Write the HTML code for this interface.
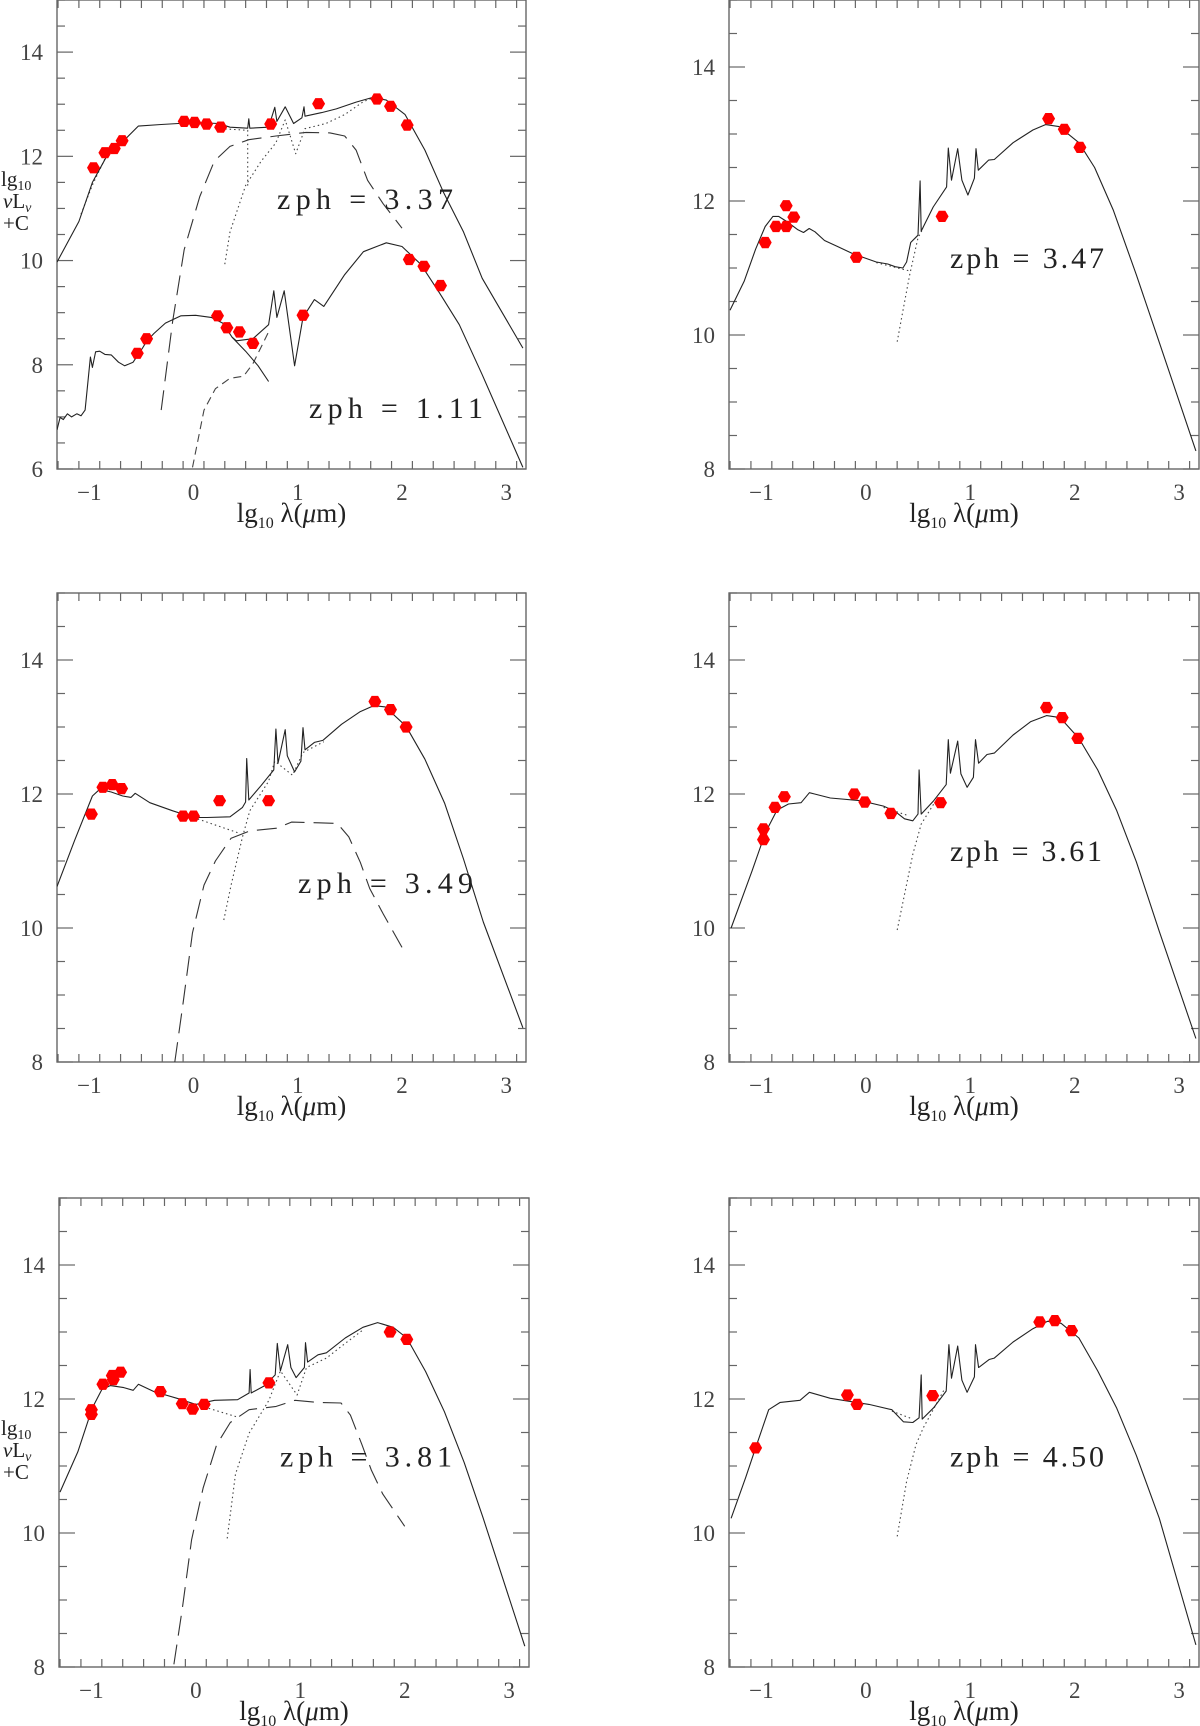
<!DOCTYPE html>
<html><head><meta charset="utf-8"><title>SED fits</title>
<style>html,body{margin:0;padding:0;background:#fff;}svg{display:block;}</style></head>
<body>
<svg id="fig" width="1200" height="1726" viewBox="0 0 1200 1726" xmlns="http://www.w3.org/2000/svg"></svg>
<script>
// ---------------- data (x = lg10 lambda, y = lg10 nuLnu + C) ----------------
const xTicks = [-1, 0, 1, 2, 3];
const yTicksA = [6, 8, 10, 12, 14];
const yTicksB = [8, 10, 12, 14];

// Panel 1 upper (zph 3.37)
const p1uPts = [[-0.96,11.78],[-0.85,12.07],[-0.76,12.15],[-0.685,12.30],[-0.09,12.67],[0.01,12.65],[0.125,12.62],[0.26,12.56],[0.74,12.62],[1.20,13.01],[1.76,13.10],[1.89,12.96],[2.05,12.60]];
const p1uSolid = [[-1.31,9.97],[-1.10,10.75],[-0.97,11.50],[-0.82,12.05],[-0.64,12.36],[-0.53,12.58],[-0.31,12.61],[0.02,12.65],[0.24,12.63],[0.35,12.56],[0.52,12.54],[0.53,12.72],[0.54,12.54],[0.72,12.56],[0.78,12.94],[0.80,12.67],[0.88,12.95],[0.96,12.63],[1.04,12.74],[1.06,12.95],[1.07,12.77],[1.23,12.84],[1.37,12.91],[1.56,13.04],[1.72,13.13],[1.85,13.08],[2.03,12.80],[2.22,12.12],[2.40,11.30],[2.59,10.55],[2.77,9.66],[3.16,8.32]];
const p1uDash = [[-0.31,7.13],[-0.20,8.84],[-0.09,10.21],[0.06,11.23],[0.20,11.91],[0.35,12.19],[0.53,12.32],[0.79,12.39],[1.08,12.46],[1.31,12.45],[1.45,12.39],[1.56,12.12],[1.67,11.54],[1.82,11.09],[2.0,10.62]];
const p1uDotA = [[-1.08,10.89],[-0.97,11.45],[-0.85,11.95]];
const p1uDotB = [[0.26,12.53],[0.52,12.50],[0.52,11.40]];
const p1uDotC = [[0.30,9.93],[0.35,10.55],[0.50,11.44],[0.65,11.91],[0.79,12.26],[0.88,12.70],[0.98,12.05],[1.07,12.53],[1.27,12.63],[1.45,12.80],[1.63,13.05],[1.72,13.12]];
// Panel 1 lower (zph 1.11)
const p1lPts = [[-0.54,8.22],[-0.45,8.50],[0.23,8.94],[0.32,8.71],[0.44,8.63],[0.57,8.41],[1.05,8.95],[2.07,10.02],[2.21,9.89],[2.37,9.52]];
const p1lSolid = [[-1.31,6.75],[-1.28,6.99],[-1.25,6.95],[-1.21,7.06],[-1.17,7.0],[-1.12,7.06],[-1.08,7.02],[-1.04,7.13],[-0.99,8.15],[-0.97,7.95],[-0.94,8.25],[-0.90,8.26],[-0.85,8.20],[-0.79,8.19],[-0.72,8.05],[-0.66,7.98],[-0.58,8.05],[-0.49,8.32],[-0.45,8.45],[-0.38,8.60],[-0.27,8.80],[-0.12,8.94],[0.02,8.95],[0.17,8.91],[0.28,8.80],[0.37,8.53],[0.41,8.46],[0.57,8.50],[0.72,8.77],[0.77,9.42],[0.80,8.91],[0.87,9.42],[0.97,7.98],[1.05,8.91],[1.16,9.25],[1.25,9.12],[1.45,9.73],[1.63,10.17],[1.85,10.34],[2.0,10.27],[2.18,9.93],[2.36,9.38],[2.55,8.77],[2.77,7.81],[3.16,6.03]];
const p1lStar = [[0.37,8.53],[0.50,8.26],[0.62,7.98],[0.72,7.68]];
const p1lDash = [[-0.01,6.03],[0.10,7.13],[0.21,7.54],[0.35,7.74],[0.48,7.78],[0.57,8.02],[0.72,8.63]];

// Panel 2 (zph 3.47)
const p2Pts = [[-0.963,11.38],[-0.86,11.62],[-0.762,11.62],[-0.762,11.93],[-0.69,11.76],[-0.09,11.16],[0.73,11.77],[1.75,13.23],[1.90,13.07],[2.05,12.80]];
const p2Solid = [[-1.30,10.37],[-1.165,10.80],[-1.055,11.28],[-0.963,11.62],[-0.89,11.77],[-0.835,11.77],[-0.744,11.68],[-0.65,11.57],[-0.597,11.53],[-0.542,11.59],[-0.487,11.54],[-0.396,11.41],[-0.268,11.32],[-0.121,11.21],[0.1,11.09],[0.21,11.06],[0.28,11.02],[0.355,11.0],[0.39,11.09],[0.43,11.38],[0.48,11.46],[0.50,11.49],[0.52,12.30],[0.53,11.55],[0.645,11.91],[0.773,12.21],[0.79,12.79],[0.82,12.31],[0.88,12.78],[0.92,12.31],[0.977,12.09],[1.04,12.34],[1.055,12.78],[1.077,12.46],[1.176,12.61],[1.23,12.62],[1.41,12.87],[1.60,13.06],[1.72,13.14],[1.85,13.11],[2.04,12.87],[2.19,12.50],[2.37,11.86],[2.59,10.90],[2.81,9.89],[3.16,8.27]];
const p2DotA = [[0.1,11.08],[0.41,10.96]];
const p2DotB = [[0.30,9.90],[0.36,10.4],[0.42,10.9],[0.50,11.45],[0.55,11.6]];

// Panel 3 (zph 3.49)
const p3Pts = [[-0.98,11.70],[-0.87,12.10],[-0.78,12.14],[-0.69,12.08],[-0.10,11.67],[0.0,11.67],[0.25,11.90],[0.72,11.90],[1.74,13.38],[1.89,13.26],[2.04,13.0]];
const p3Solid = [[-1.31,10.62],[-1.14,11.31],[-0.97,11.97],[-0.90,12.07],[-0.79,12.03],[-0.68,11.97],[-0.60,11.95],[-0.56,12.01],[-0.42,11.87],[-0.20,11.75],[0.0,11.65],[0.13,11.65],[0.35,11.66],[0.47,11.80],[0.50,11.88],[0.51,12.53],[0.53,11.91],[0.65,12.13],[0.77,12.36],[0.79,12.97],[0.81,12.46],[0.88,12.96],[0.90,12.57],[0.97,12.33],[1.03,12.49],[1.05,12.99],[1.07,12.66],[1.16,12.77],[1.24,12.80],[1.42,13.04],[1.60,13.23],[1.73,13.32],[1.84,13.30],[2.04,13.01],[2.22,12.52],[2.41,11.86],[2.59,11.03],[2.78,10.09],[3.16,8.51]];
const p3Dash = [[-0.18,8.0],[-0.10,8.88],[-0.01,9.93],[0.10,10.64],[0.21,11.0],[0.36,11.34],[0.54,11.45],[0.80,11.49],[0.94,11.58],[1.20,11.57],[1.38,11.56],[1.49,11.36],[1.60,10.98],[1.69,10.59],[1.82,10.21],[2.0,9.71]];
const p3DotA = [[0.0,11.65],[0.43,11.42]];
const p3DotB = [[0.29,10.12],[0.36,10.64],[0.47,11.36],[0.54,11.75],[0.72,12.19],[0.78,12.49],[0.95,12.28],[1.05,12.62],[1.25,12.78]];

// Panel 4 (zph 3.61)
const p4Pts = [[-0.98,11.48],[-0.98,11.32],[-0.87,11.80],[-0.78,11.96],[-0.11,12.0],[-0.01,11.88],[0.24,11.71],[0.715,11.87],[1.73,13.29],[1.88,13.14],[2.03,12.83]];
const p4Solid = [[-1.29,10.0],[-1.09,10.85],[-0.96,11.43],[-0.85,11.76],[-0.74,11.85],[-0.62,11.87],[-0.54,12.02],[-0.49,12.0],[-0.34,11.94],[-0.05,11.90],[0.17,11.82],[0.28,11.74],[0.37,11.63],[0.45,11.60],[0.50,11.70],[0.51,12.36],[0.53,11.70],[0.65,11.90],[0.77,12.14],[0.79,12.81],[0.81,12.31],[0.88,12.79],[0.91,12.30],[0.97,12.10],[1.03,12.25],[1.05,12.81],[1.08,12.46],[1.16,12.59],[1.23,12.61],[1.41,12.88],[1.58,13.08],[1.73,13.17],[1.86,13.14],[2.04,12.83],[2.22,12.36],[2.40,11.76],[2.59,10.99],[2.81,9.95],[3.16,8.35]];
const p4DotA = [[0.17,11.80],[0.40,11.68]];
const p4DotB = [[0.30,9.97],[0.37,10.5],[0.45,11.1],[0.53,11.55],[0.65,11.85]];

// Panel 5 (zph 3.81)
const p5Pts = [[-1.0,11.77],[-1.0,11.84],[-0.89,12.22],[-0.80,12.35],[-0.79,12.29],[-0.72,12.40],[-0.34,12.11],[-0.13,11.93],[-0.03,11.85],[0.08,11.92],[0.70,12.24],[1.86,13.0],[2.02,12.89]];
const p5Solid = [[-1.30,10.61],[-1.13,11.21],[-0.99,11.87],[-0.90,12.14],[-0.82,12.20],[-0.69,12.17],[-0.60,12.13],[-0.55,12.22],[-0.40,12.11],[-0.18,12.01],[0.0,11.92],[0.18,11.98],[0.40,11.99],[0.51,12.09],[0.52,12.44],[0.53,12.09],[0.66,12.20],[0.76,12.36],[0.78,12.83],[0.81,12.42],[0.88,12.81],[0.91,12.47],[0.96,12.32],[1.04,12.47],[1.05,12.84],[1.07,12.55],[1.17,12.66],[1.25,12.69],[1.43,12.91],[1.60,13.07],[1.74,13.14],[1.89,13.07],[2.02,12.91],[2.20,12.41],[2.38,11.81],[2.57,11.05],[2.75,10.23],[3.15,8.31]];
const p5Dash = [[-0.21,8.04],[-0.13,8.86],[-0.04,9.90],[0.07,10.67],[0.20,11.32],[0.33,11.65],[0.51,11.84],[0.77,11.89],[0.95,11.98],[1.17,11.95],[1.39,11.94],[1.48,11.76],[1.59,11.32],[1.68,10.94],[1.79,10.58],[2.0,10.10]];
const p5DotA = [[0.0,11.92],[0.40,11.73]];
const p5DotB = [[0.30,9.92],[0.38,10.88],[0.51,11.49],[0.70,11.98],[0.81,12.42],[0.97,12.06],[1.06,12.47],[1.25,12.61],[1.43,12.83],[1.60,13.03]];

// Panel 6 (zph 4.50)
const p6Pts = [[-1.055,11.27],[-0.176,12.06],[-0.084,11.92],[0.64,12.05],[1.665,13.15],[1.81,13.17],[1.97,13.02]];
const p6Solid = [[-1.29,10.22],[-1.15,10.83],[-1.055,11.27],[-0.93,11.84],[-0.82,11.95],[-0.63,11.98],[-0.54,12.10],[-0.34,12.01],[0.03,11.92],[0.25,11.84],[0.36,11.66],[0.45,11.65],[0.51,11.72],[0.53,12.36],[0.54,11.70],[0.65,11.87],[0.77,12.12],[0.795,12.81],[0.82,12.31],[0.88,12.79],[0.92,12.28],[0.97,12.10],[1.04,12.33],[1.05,12.81],[1.08,12.47],[1.18,12.59],[1.23,12.61],[1.41,12.85],[1.60,13.05],[1.74,13.16],[1.87,13.13],[2.04,12.91],[2.22,12.42],[2.40,11.87],[2.59,11.16],[2.81,10.22],[3.16,8.33]];
const p6DotA = [[0.25,11.82],[0.45,11.70]];
const p6DotB = [[0.30,9.95],[0.39,10.77],[0.48,11.32],[0.55,11.57],[0.75,12.14]];

const zphLabels = ["zph = 3.37","zph = 1.11","zph = 3.47","zph = 3.49","zph = 3.61","zph = 3.81","zph = 4.50"];

// ---------------- drawing ----------------
const NS = "http://www.w3.org/2000/svg";
const svg = document.getElementById("fig");
function el(tag, attrs, parent){
  const e = document.createElementNS(NS, tag);
  for (const k in attrs) e.setAttribute(k, attrs[k]);
  (parent||svg).appendChild(e);
  return e;
}
const XMIN=-1.31, XMAX=3.19;

function makePanel(name, L, R, T, B, ymin, ymax){
  const g = el("g", {});
  
  
  const sx = v => L + (v - XMIN) / (XMAX - XMIN) * (R - L);
  const sy = v => B - (v - ymin) / (ymax - ymin) * (B - T);
  const clipId = name + "-clip";
  const cp = el("clipPath", {id: clipId}, g);
  el("rect", {x:L, y:T, width:R-L, height:B-T}, cp);
  const frame = el("rect", {x:L, y:T, width:R-L, height:B-T, fill:"none", stroke:"#666", "stroke-width":1.4}, g);
  
  
  for (let i = -13; i <= 32; i += 2) {
    const v = i / 10;
    if (v < XMIN || v > XMAX) continue;
    const major = Math.abs(v - Math.round(v)) < 1e-6;
    const len = major ? 16 : 8;
    const X = sx(v);
    el("line", {x1:X, y1:B, x2:X, y2:B-len, stroke:"#666", "stroke-width":1.2}, g);
    el("line", {x1:X, y1:T, x2:X, y2:T+len, stroke:"#666", "stroke-width":1.2}, g);
  }
  xTicks.forEach(v => {
    const t = el("text", {x:sx(v), y:B+31, "text-anchor":"middle", "font-family":"Liberation Serif, serif", "font-size":23, fill:"#444"}, g);
    t.textContent = v < 0 ? "\u2212" + Math.abs(v) : String(v);
    
    
  });
  for (let v = ymin; v <= ymax + 1e-6; v += 0.5) {
    const major = Math.abs(v/2 - Math.round(v/2)) < 1e-6;
    const len = major ? 16 : 8;
    const Y = sy(v);
    el("line", {x1:L, y1:Y, x2:L+len, y2:Y, stroke:"#666", "stroke-width":1.2}, g);
    el("line", {x1:R, y1:Y, x2:R-len, y2:Y, stroke:"#666", "stroke-width":1.2}, g);
  }
  const yt = ymin === 6 ? yTicksA : yTicksB;
  yt.forEach(v => {
    const t = el("text", {x:L-14, y:sy(v)+8, "text-anchor":"end", "font-family":"Liberation Serif, serif", "font-size":23, fill:"#444"}, g);
    t.textContent = String(v);
    
    
  });
  const xt = el("text", {x:(L+R)/2, y:B+53, "text-anchor":"middle", "font-family":"Liberation Serif, serif", "font-size":27, fill:"#222"}, g);
  
  
  const a = el("tspan", {}, xt); a.textContent = "lg";
  const b = el("tspan", {"font-size":16, dy:6}, xt); b.textContent = "10";
  const c = el("tspan", {dy:-6}, xt); c.textContent = " \u03bb(";
  const d = el("tspan", {"font-style":"italic"}, xt); d.textContent = "\u03bc";
  const e2 = el("tspan", {}, xt); e2.textContent = "m)";
  return {g, sx, sy, clipId};
}

function line(P, pts, name, style){
  const d = pts.map((p,i) => (i ? "L" : "M") + P.sx(p[0]).toFixed(1) + "," + P.sy(p[1]).toFixed(1)).join("");
  const attrs = {d, fill:"none", stroke:"#222", "stroke-width":1.1, "clip-path":"url(#"+P.clipId+")", "stroke-linejoin":"round"};
  if (style === "dash") { attrs["stroke-dasharray"] = "20,9"; attrs.stroke = "#333"; }
  if (style === "sdash") { attrs["stroke-dasharray"] = "8,5"; attrs.stroke = "#444"; }
  if (style === "dot") { attrs["stroke-dasharray"] = "1.5,3"; attrs.stroke = "#444"; }
  const p = el("path", attrs, P.g);
  
  
}
function hex(cx, cy, r){
  let s = "";
  for (let k = 0; k < 6; k++) { const a = Math.PI/3*k; s += (cx + r*Math.cos(a)).toFixed(1) + "," + (cy + r*Math.sin(a)).toFixed(1) + " "; }
  return s;
}
function points(P, pts, name){
  pts.forEach(p => {
    const h = el("polygon", {points:hex(P.sx(p[0]), P.sy(p[1]), 6.5), fill:"#ff0000"}, P.g);
    
    
  });
}
function zph(P, txt, x, yv, w){
  const t = el("text", {x, y:P.sy(yv), "font-family":"Liberation Serif, serif", "font-size":30, fill:"#222", textLength:w, lengthAdjust:"spacing"}, P.g);
  t.textContent = txt;
  
  
}
function ylabel(x, ys, name){
  const g = el("g", {"font-family":"Liberation Serif, serif", "font-size":21, fill:"#222"});
  
  
  const t1 = el("text", {x, y:ys[0]}, g);
  el("tspan", {}, t1).textContent = "lg";
  el("tspan", {"font-size":14, dy:4}, t1).textContent = "10";
  const t2 = el("text", {x:x+2, y:ys[1]}, g);
  el("tspan", {"font-style":"italic"}, t2).textContent = "\u03bd";
  el("tspan", {}, t2).textContent = "L";
  el("tspan", {"font-size":14, dy:4, "font-style":"italic"}, t2).textContent = "\u03bd";
  const t3 = el("text", {x:x+2, y:ys[2]}, g);
  t3.textContent = "+C";
}

const P1 = makePanel("panel-zph-3-37-and-1-11", 57, 526, 0, 469, 6, 15);
line(P1, p1uDash, "agn-component-upper", "dash");
line(P1, p1uDotA, "stellar-component-upper", "dot");
line(P1, p1uDotB, "stellar-component-upper-b", "dot");
line(P1, p1uDotC, "starburst-component-upper", "dot");
line(P1, p1uSolid, "total-sed-upper", "solid");
line(P1, p1lDash, "dust-component-lower", "sdash");
line(P1, p1lStar, "stellar-spectrum-lower", "solid");
line(P1, p1lSolid, "total-sed-lower", "solid");
points(P1, p1uPts, "photometry-point-upper");
points(P1, p1lPts, "photometry-point-lower");
zph(P1, zphLabels[0], 277, 10.99, 176);
zph(P1, zphLabels[1], 309, 6.98, 174);

const P2 = makePanel("panel-zph-3-47", 729, 1199, 0, 469, 8, 15);
line(P2, p2DotA, "stellar-component", "dot");
line(P2, p2DotB, "starburst-component", "dot");
line(P2, p2Solid, "total-sed", "solid");
points(P2, p2Pts, "photometry-point");
zph(P2, zphLabels[2], 950, 11.0, 154);

const P3 = makePanel("panel-zph-3-49", 57, 526, 593, 1062, 8, 15);
line(P3, p3Dash, "agn-component", "dash");
line(P3, p3DotA, "stellar-component", "dot");
line(P3, p3DotB, "starburst-component", "dot");
line(P3, p3Solid, "total-sed", "solid");
points(P3, p3Pts, "photometry-point");
zph(P3, zphLabels[3], 298, 10.52, 175);

const P4 = makePanel("panel-zph-3-61", 729, 1199, 593, 1062, 8, 15);
line(P4, p4DotA, "stellar-component", "dot");
line(P4, p4DotB, "starburst-component", "dot");
line(P4, p4Solid, "total-sed", "solid");
points(P4, p4Pts, "photometry-point");
zph(P4, zphLabels[4], 950, 11.0, 152);

const P5 = makePanel("panel-zph-3-81", 59, 529, 1198, 1667, 8, 15);
line(P5, p5Dash, "agn-component", "dash");
line(P5, p5DotA, "stellar-component", "dot");
line(P5, p5DotB, "starburst-component", "dot");
line(P5, p5Solid, "total-sed", "solid");
points(P5, p5Pts, "photometry-point");
zph(P5, zphLabels[5], 280, 10.99, 172);

const P6 = makePanel("panel-zph-4-50", 729, 1199, 1198, 1667, 8, 15);
line(P6, p6DotA, "stellar-component", "dot");
line(P6, p6DotB, "starburst-component", "dot");
line(P6, p6Solid, "total-sed", "solid");
points(P6, p6Pts, "photometry-point");
zph(P6, zphLabels[6], 950, 10.99, 154);

ylabel(1, [186, 208, 230], "y-axis-title-top");
ylabel(1, [1435, 1457, 1479], "y-axis-title-bottom");
</script>
</body></html>
